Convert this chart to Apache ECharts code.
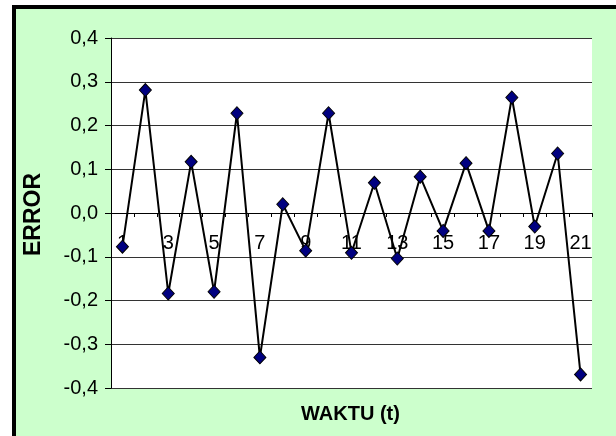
<!DOCTYPE html>
<html>
<head>
<meta charset="utf-8">
<script src="https://cdn.jsdelivr.net/npm/echarts@6/dist/echarts.min.js"></script>
<style>
    html, body { margin: 0; padding: 0; background: #fff; }
    #main { width: 616px; height: 436px; }
</style>
</head>
<body>
<div id="main"></div>
<script>
// 数据：时间序列误差
var waktu = ['1','2','3','4','5','6','7','8','9','10','11','12','13','14','15','16','17','18','19','20','21'];
var errorValues = [-0.077, 0.281, -0.184, 0.117, -0.180, 0.228, -0.330, 0.020, -0.086, 0.228, -0.091,
                   0.069, -0.104, 0.083, -0.041, 0.114, -0.041, 0.264, -0.031, 0.136, -0.369];
var yTickLabels = ['-0,4', '-0,3', '-0,2', '-0,1', '0,0', '0,1', '0,2', '0,3', '0,4'];

var FONT = "'Liberation Sans', Arial, sans-serif";
var myChart = echarts.init(document.getElementById('main'), null, { renderer: 'canvas' });

var option = {
    backgroundColor: '#fff',
    animation: false,
    graphic: [
        {   // 外框 + 绿色背景
            type: 'rect', z: -10, silent: true,
            shape: { x: 14, y: 7, width: 700, height: 520 },
            style: { fill: '#CCFFCC', stroke: '#000', lineWidth: 4 }
        },
        {
            type: 'text', left: 301, top: 404, silent: true,
            style: { text: 'WAKTU (t)', font: 'bold 20px ' + FONT, fill: '#000' }
        },
        {
            type: 'text', rotation: Math.PI / 2, x: 22, y: 256, silent: true,
            style: { text: 'ERROR', font: 'bold 23px ' + FONT, fill: '#000' }
        }
    ],
    grid: {
        left: 111, right: 24, top: 38, bottom: 48,
        show: true, backgroundColor: '#fff', borderWidth: 0
    },
    xAxis: [{
        // 零线上的轴线和刻度
        type: 'category',
        data: waktu,
        boundaryGap: true,
        axisLine: { onZero: true, lineStyle: { color: '#000', width: 1 } },
        axisTick: { show: true, interval: 0, length: 4, lineStyle: { color: '#000' } },
        axisLabel: { show: false },
        splitLine: { show: false }
    }, {
        // 只显示标签，移到零线下方
        type: 'category',
        data: waktu,
        boundaryGap: true,
        position: 'bottom',
        offset: -174,
        axisLine: { show: false },
        axisTick: { show: false },
        axisLabel: { interval: 1, margin: 19, color: '#000', fontSize: 20, fontFamily: FONT },
        splitLine: { show: false }
    }],
    yAxis: {
        type: 'value',
        min: -0.4, max: 0.4, interval: 0.1,
        axisLine: { show: true, lineStyle: { color: '#000', width: 1 } },
        axisTick: { show: true, length: 6, lineStyle: { color: '#000' } },
        axisLabel: {
            margin: 13, color: '#000', fontSize: 20, fontFamily: FONT,
            formatter: function (value, index) { return yTickLabels[index]; }
        },
        splitLine: { show: true, lineStyle: { color: '#333', width: 1 } }
    },
    series: [{
        type: 'line',
        xAxisIndex: 0,
        data: errorValues,
        symbol: 'diamond',
        symbolSize: [12, 13],
        lineStyle: { color: '#000', width: 2 },
        itemStyle: { color: '#000080', borderColor: '#000', borderWidth: 1 },
        z: 5
    }]
};
myChart.setOption(option);
</script>
</body>
</html>
